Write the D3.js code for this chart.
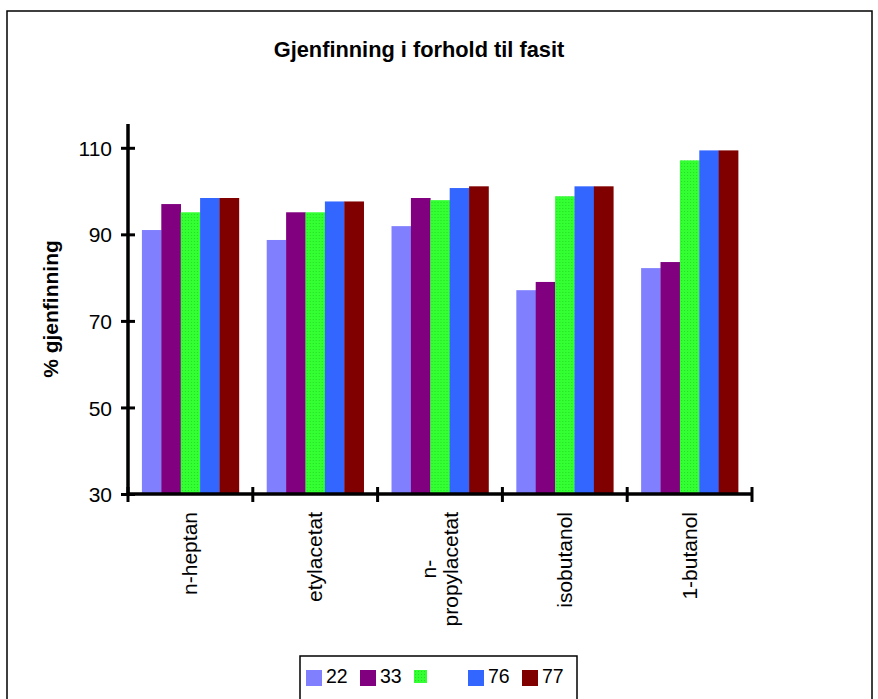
<!DOCTYPE html>
<html>
<head>
<meta charset="utf-8">
<script src="https://cdn.jsdelivr.net/npm/d3@7"></script>
<style>
  html, body { margin: 0; padding: 0; background: #fff; }
  svg { display: block; font-family: "Liberation Sans", Arial, sans-serif; }
</style>
</head>
<body>
<svg id="chart" width="878" height="699"></svg>
<script>
// Recovery (%) per solvent for each sample
const categories = ["n-heptan", "etylacetat", "n-propylacetat", "isobutanol", "1-butanol"];
const seriesNames = ["22", "33", "", "76", "77"];
const s22 = [91.0, 88.7, 91.9, 77.1, 82.2];
const s33 = [97.0, 95.1, 98.4, 79.0, 83.6];
const sBlank = [95.1, 95.1, 97.9, 98.8, 107.1];
const s76 = [98.4, 97.6, 100.7, 101.1, 109.4];
const s77 = [98.4, 97.6, 101.1, 101.1, 109.4];
const yTicks = [30, 50, 70, 90, 110];

const seriesValues = [s22, s33, sBlank, s76, s77];
const colors = ["#8080ff", "#800080", "url(#dots)", "#3366ff", "#800000"];

const svg = d3.select("#chart");

// dotted fill used by the green series
const defs = svg.append("defs");
const pat = defs.append("pattern").attr("id", "dots")
  .attr("width", 3).attr("height", 3).attr("patternUnits", "userSpaceOnUse");
pat.append("rect").attr("width", 3).attr("height", 3).attr("fill", "#33ff33");
pat.append("rect").attr("x", 1).attr("y", 1).attr("width", 1).attr("height", 1).attr("fill", "#22dd22");

// outer frame
svg.append("rect").attr("x", 7).attr("y", 11).attr("width", 865).attr("height", 700)
  .attr("fill", "none").attr("stroke", "#000").attr("stroke-width", 1.5);

const plotLeft = 128, plotRight = 752, plotBottom = 494, plotTop = 124;

// title
svg.append("text").attr("x", 419).attr("y", 57).attr("text-anchor", "middle")
  .attr("font-size", 21.8).attr("font-weight", "bold").text("Gjenfinning i forhold til fasit");

const x = d3.scaleBand().domain(categories).range([plotLeft, plotRight])
  .paddingInner(0.223).paddingOuter(0.1115);
const xs = d3.scaleBand().domain(d3.range(seriesValues.length)).range([0, x.bandwidth()]);
const y = d3.scaleLinear().domain([30, 115.5]).range([plotBottom, plotTop]);

// bars
const groups = svg.append("g").selectAll("g").data(categories).join("g")
  .attr("transform", d => `translate(${x(d)},0)`);
groups.selectAll("rect")
  .data((d, ci) => seriesValues.map((vals, si) => ({ si, v: vals[ci] })))
  .join("rect")
  .attr("x", d => xs(d.si))
  .attr("width", xs.bandwidth() + 0.3)
  .attr("y", d => y(d.v))
  .attr("height", d => y(30) - y(d.v))
  .attr("fill", d => colors[d.si]);

// y axis
const yAxis = svg.append("g").attr("transform", `translate(${plotLeft},0)`)
  .call(d3.axisLeft(y).tickValues(yTicks).tickSize(7).tickPadding(9).tickSizeOuter(0));
yAxis.select(".domain").remove();
yAxis.selectAll(".tick line").attr("x1", -7).attr("x2", 7).attr("stroke", "#000").attr("stroke-width", 3);
yAxis.selectAll(".tick text").attr("font-size", 21).attr("font-family", "Liberation Sans, Arial, sans-serif")
  .attr("fill", "#000").attr("dy", "0.36em");
svg.append("line").attr("x1", plotLeft).attr("x2", plotLeft).attr("y1", plotTop).attr("y2", plotBottom + 1.5)
  .attr("stroke", "#000").attr("stroke-width", 3.5);

// x axis with boundary ticks between categories
const bounds = categories.map(c => x(c) - x.step() * x.paddingOuter()).concat([plotRight]);
svg.append("line").attr("x1", plotLeft).attr("x2", plotRight).attr("y1", plotBottom).attr("y2", plotBottom)
  .attr("stroke", "#000").attr("stroke-width", 3.5);
svg.append("g").selectAll("line").data(bounds).join("line")
  .attr("x1", d => d).attr("x2", d => d).attr("y1", plotBottom - 7).attr("y2", plotBottom + 8)
  .attr("stroke", "#000").attr("stroke-width", 3);

// category labels, rotated; long names wrap after the hyphen
const labelG = svg.append("g").selectAll("g").data(categories).join("g");
labelG.each(function(c) {
  const lines = c.length > 12 && c.includes("-") ? [c.slice(0, c.indexOf("-") + 1), c.slice(c.indexOf("-") + 1)] : [c];
  const g = d3.select(this);
  const cx = x(c) + x.bandwidth() / 2;
  const t = g.append("text").attr("font-size", 21).attr("text-anchor", "middle");
  const lh = 22;
  lines.forEach((ln, i) => {
    t.append("tspan").attr("x", 0).attr("y", 7 + (i - (lines.length - 1) / 2) * lh).text(ln);
  });
  let maxLen = 0;
  t.selectAll("tspan").each(function() { maxLen = Math.max(maxLen, this.getComputedTextLength()); });
  t.selectAll("tspan").attr("x", -maxLen / 2);
  g.attr("transform", `translate(${cx},${plotBottom + 18}) rotate(-90)`);
});

// y axis title, centred on the plot area
svg.append("text").attr("transform", `translate(58,${(plotTop + plotBottom) / 2}) rotate(-90)`)
  .attr("text-anchor", "middle").attr("font-size", 21).attr("font-weight", "bold")
  .text("% gjenfinning");

// legend
const lg = svg.append("g");
lg.append("rect").attr("x", 300).attr("y", 656).attr("width", 277).attr("height", 60)
  .attr("fill", "#fff").attr("stroke", "#000").attr("stroke-width", 1.5);
const items = lg.selectAll("g").data(seriesNames).join("g")
  .attr("transform", (d, i) => `translate(${306 + i * 54},670)`);
items.append("rect")
  .attr("width", (d, i) => i === 2 ? 13 : 16)
  .attr("height", (d, i) => i === 2 ? 13 : 16)
  .attr("fill", (d, i) => colors[i]);
items.append("text").attr("x", 20).attr("y", 12.5).attr("font-size", 19.5).text(d => d);
</script>
</body>
</html>
